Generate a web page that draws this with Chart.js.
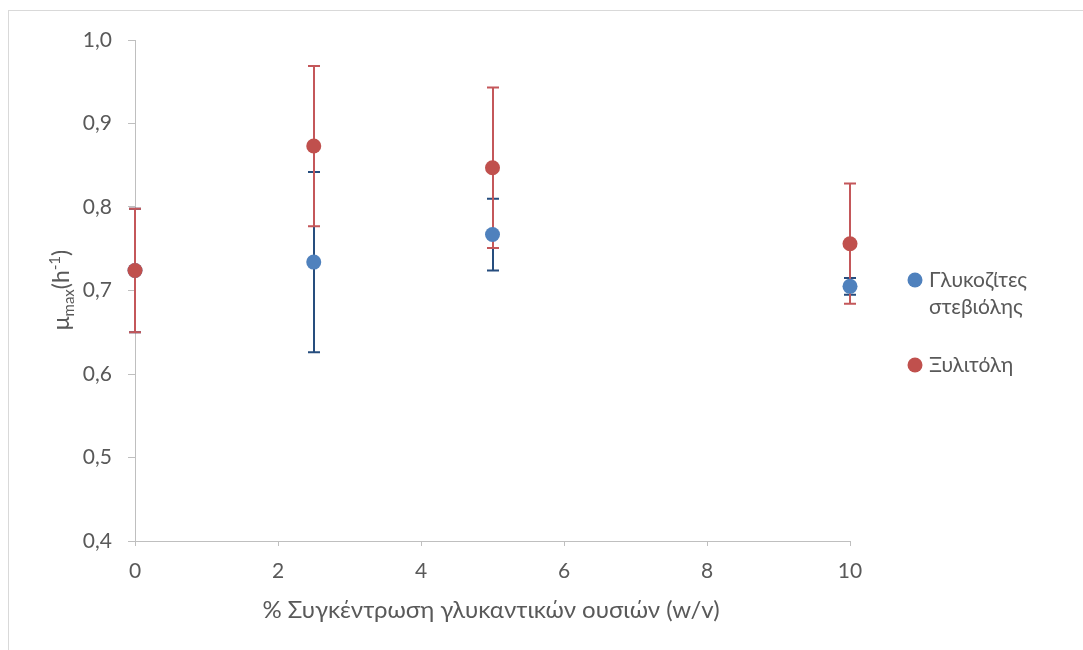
<!DOCTYPE html>
<html><head><meta charset="utf-8">
<script src="https://cdn.jsdelivr.net/npm/chart.js@4.4.1/dist/chart.umd.min.js"></script>
<style>html,body{margin:0;padding:0;background:#fff;}#wrap{position:relative;width:1083px;height:650px;}</style>
</head><body><div id="wrap"><canvas id="c" width="1083" height="650"></canvas></div>
<script>
const concentrations = [0, 2.5, 5, 10];
const steviolValues = [0.724, 0.734, 0.767, 0.705];
const steviolErrors = [0.074, 0.108, 0.043, 0.010];
const xylitolValues = [0.724, 0.873, 0.847, 0.756];
const xylitolErrors = [0.074, 0.096, 0.096, 0.072];
const seriesNames = ['Γλυκοζίτες στεβιόλης', 'Ξυλιτόλη'];
const xTitle = '% Συγκέντρωση γλυκαντικών ουσιών (w/v)';
const fontFam = 'Lato, "Open Sans", sans-serif';
const textCol = '#595959';

const errorBars = {
  id: 'errorBars',
  beforeDatasetsDraw(chart) {
    const ctx = chart.ctx, xs = chart.scales.x, ys = chart.scales.y;
    chart.data.datasets.forEach(ds => {
      ctx.save();
      ctx.strokeStyle = ds.errColor; ctx.lineWidth = 2;
      ds.data.forEach((p, i) => {
        const e = ds.errors[i];
        const x = Math.round(xs.getPixelForValue(p.x));
        const yt = ys.getPixelForValue(p.y + e), yb = ys.getPixelForValue(p.y - e);
        ctx.beginPath();
        ctx.moveTo(x, yt); ctx.lineTo(x, yb);
        ctx.moveTo(x - 6, yt); ctx.lineTo(x + 6, yt);
        ctx.moveTo(x - 6, yb); ctx.lineTo(x + 6, yb);
        ctx.stroke();
      });
      ctx.restore();
    });
  }
};

const decor = {
  id: 'decor',
  afterDraw(chart) {
    const ctx = chart.ctx;
    ctx.save();
    ctx.strokeStyle = '#d9d9d9'; ctx.lineWidth = 1;
    ctx.strokeRect(8.5, 10.5, 1200, 800);
    ctx.fillStyle = textCol;
    // x title
    ctx.font = '24px ' + fontFam;
    ctx.textAlign = 'center'; ctx.textBaseline = 'middle';
    ctx.fillText(xTitle, 491, 610);
    // y title rotated with sub/superscript
    ctx.translate(63, 290);
    ctx.rotate(-Math.PI / 2);
    ctx.textAlign = 'left'; ctx.textBaseline = 'alphabetic';
    const big = '23px ' + fontFam, small = '15px ' + fontFam;
    const parts = [['μ', big, 0], ['max', small, 5], ['(h', big, 0], ['-1', small, -9], [')', big, 0]];
    let w = 0;
    parts.forEach(p => { ctx.font = p[1]; w += ctx.measureText(p[0]).width; });
    let x = -w / 2;
    parts.forEach(p => { ctx.font = p[1]; ctx.fillText(p[0], x, 6 + p[2]); x += ctx.measureText(p[0]).width; });
    ctx.restore();
    // legend
    ctx.save();
    ctx.font = '21px ' + fontFam; ctx.fillStyle = textCol;
    ctx.textAlign = 'left'; ctx.textBaseline = 'middle';
    const leg = [[chart.data.datasets[0].backgroundColor, 280, ['Γλυκοζίτες', 'στεβιόλης']],
                 [chart.data.datasets[1].backgroundColor, 365, ['Ξυλιτόλη']]];
    leg.forEach(l => {
      ctx.fillStyle = l[0];
      ctx.beginPath(); ctx.arc(915, l[1], 7.5, 0, Math.PI * 2); ctx.fill();
      ctx.fillStyle = textCol;
      l[2].forEach((t, k) => ctx.fillText(t, 929, l[1] + k * 27));
    });
    ctx.restore();
  }
};

const tickFmt = v => v.toFixed(1).replace('.', ',');

new Chart(document.getElementById('c'), {
  type: 'scatter',
  data: {
    datasets: [
      { label: seriesNames[0], data: concentrations.map((x, i) => ({ x, y: steviolValues[i] })),
        errors: steviolErrors, errColor: '#264d7e', order: 1, clip: false,
        backgroundColor: '#4f81bd', borderColor: '#4f81bd', pointRadius: 7.5, pointHoverRadius: 7.5, borderWidth: 0 },
      { label: seriesNames[1], data: concentrations.map((x, i) => ({ x, y: xylitolValues[i] })),
        errors: xylitolErrors, errColor: '#c4575a', order: 0, clip: false,
        backgroundColor: '#c0504d', borderColor: '#c0504d', pointRadius: 7.5, pointHoverRadius: 7.5, borderWidth: 0 }
    ]
  },
  options: {
    responsive: false, animation: false,
    layout: { padding: { left: 0, top: 40, right: 233, bottom: 0 } },
    plugins: { legend: { display: false }, tooltip: { enabled: false } },
    scales: {
      x: {
        type: 'linear', min: 0, max: 10,
        afterFit: s => { s.height = 109; },
        ticks: { stepSize: 2, color: textCol, font: { family: fontFam, size: 21 }, padding: 13, maxRotation: 0 },
        grid: { display: true, drawOnChartArea: false, drawTicks: true, tickLength: 5, color: '#bfbfbf' },
        border: { display: true, color: '#bfbfbf', width: 1 }
      },
      y: {
        type: 'linear', min: 0.4, max: 1.0,
        afterFit: s => { s.width = 135; },
        ticks: { stepSize: 0.1, color: textCol, font: { family: fontFam, size: 21 }, padding: 16, callback: tickFmt },
        grid: { display: true, drawOnChartArea: false, drawTicks: true, tickLength: 7, color: '#bfbfbf' },
        border: { display: true, color: '#bfbfbf', width: 1 }
      }
    }
  },
  plugins: [errorBars, decor]
});
</script></body></html>
